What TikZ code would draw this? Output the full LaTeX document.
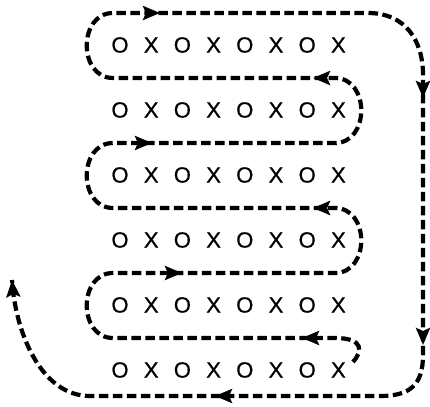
\documentclass[tikz,border=0pt]{standalone}
\usepackage{fontspec}
\setmainfont{Liberation Sans}
\newfontfamily\letterfont[FakeBold=0.8]{Liberation Sans}
\usetikzlibrary{arrows.meta}
\tikzset{
  route/.style={line width=4.2pt, dash pattern=on 9.5pt off 4.5pt, line cap=butt},
  tipmark/.style={line width=4pt, -{Stealth[length=17pt,width=14pt,inset=3pt]}},
  letter/.style={inner sep=0pt, font=\letterfont\fontsize{22}{22}\selectfont}
}
\begin{document}
\begin{tikzpicture}[x=1pt,y=-1pt]
\useasboundingbox (0,0) rectangle (430,406);
% letters
\foreach \r in {0,...,5}{
  \foreach \c in {0,2,4,6}{
    \node[letter] (o\r\c) at ({120+31.2*\c},{45+65*\r}) {O};
  }
  \foreach \c in {1,3,5,7}{
    \node[letter] (x\r\c) at ({120+31.2*\c},{45+65*\r}) {X};
  }
}
% serpentine route
\coordinate (s) at (353,362);
\coordinate (e) at (12,280);
\draw[route] (s) .. controls (362,352) and (365,338) .. (335,338)
  -- (113,338) .. controls (78,338) and (78,273) .. (113,273)
  -- (335,273) .. controls (370,273) and (370,208) .. (335,208)
  -- (113,208) .. controls (78,208) and (78,143) .. (113,143)
  -- (335,143) .. controls (370,143) and (370,78) .. (335,78)
  -- (113,78) .. controls (78,78) and (78,13) .. (113,13)
  -- (368,13) .. controls (405,13) and (423,40) .. (423,75)
  -- (423,355) .. controls (423,385) and (410,396) .. (380,396)
  -- (90,396) .. controls (40,396) and (15,330) .. (e);
% arrow heads
\draw[tipmark] (150,13) -- (160,13);
\draw[tipmark] (323,78) -- (313,78);
\draw[tipmark] (142,143) -- (152,143);
\draw[tipmark] (323,208) -- (313,208);
\draw[tipmark] (172,273) -- (182,273);
\draw[tipmark] (312,338) -- (302,338);
\draw[tipmark] (423,88) -- (423,98);
\draw[tipmark] (423,335) -- (423,345);
\draw[tipmark] (225,396) -- (215,396);
\draw[tipmark] (12.4,285) -- (e);
\end{tikzpicture}
\end{document}
